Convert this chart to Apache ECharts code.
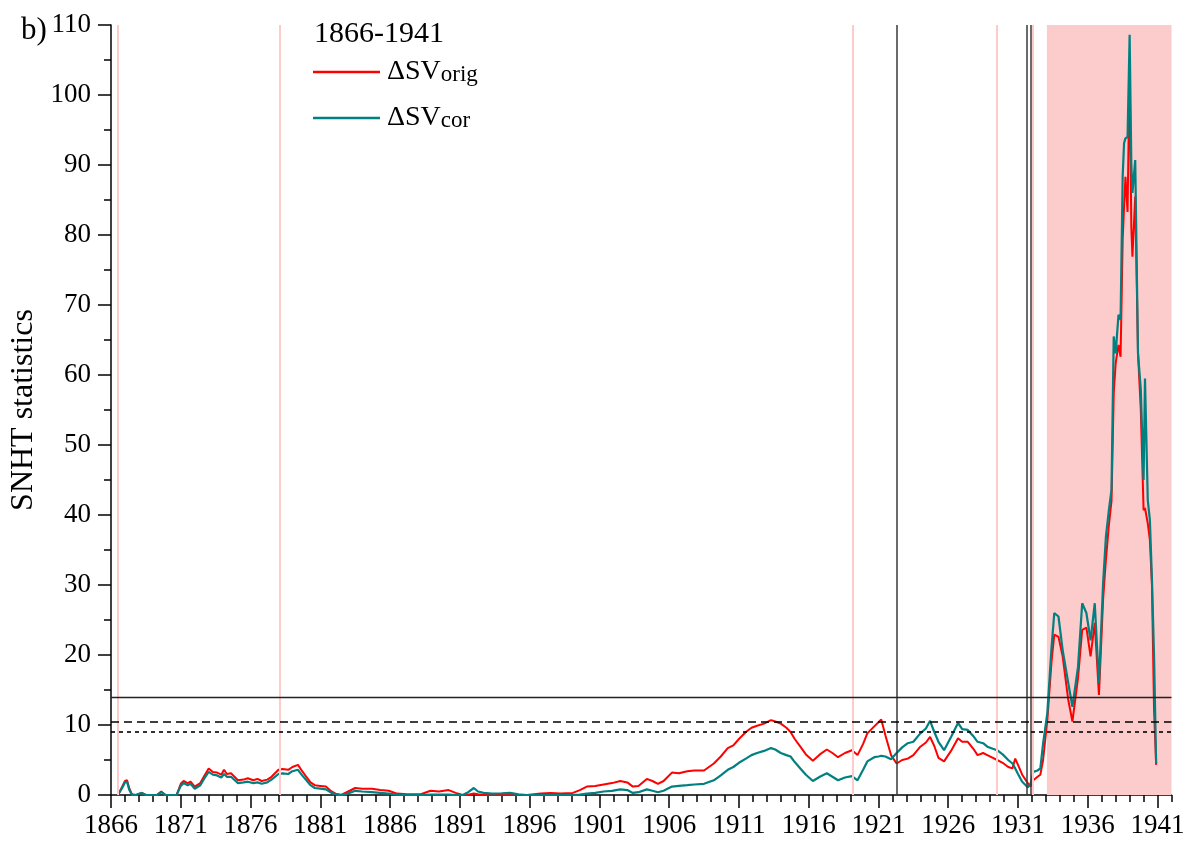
<!DOCTYPE html>
<html>
<head>
<meta charset="utf-8">
<script src="https://cdn.jsdelivr.net/npm/echarts@6/dist/echarts.min.js"></script>
<style>
  html, body { margin: 0; padding: 0; background: #fff; }
  #chart { width: 1187px; height: 841px; }
</style>
</head>
<body>
<div id="chart"></div>
<script>
// ---- Data ----
const years = [
  1866.5, 1866.8, 1867.0, 1867.15, 1867.3, 1867.5, 1867.8, 1868.2, 1868.5, 1869.3,
  1869.6, 1869.9, 1870.7, 1871.0, 1871.2, 1871.5, 1871.7, 1872.0, 1872.4, 1872.7,
  1873.0, 1873.3, 1873.6, 1873.9, 1874.1, 1874.3, 1874.6, 1875.1, 1875.5, 1875.8,
  1876.2, 1876.5, 1876.8, 1877.2, 1877.5, 1878.0, 1878.3, 1878.7, 1879.0, 1879.4,
  1879.7, 1880.0, 1880.3, 1880.6, 1881.0, 1881.4, 1881.8, 1882.1, 1882.5, 1883.0,
  1883.5, 1884.0, 1884.7, 1885.3, 1885.9, 1886.5, 1887.2, 1888.2, 1888.9, 1889.5,
  1890.2, 1890.7, 1891.2, 1891.6, 1892.0, 1892.3, 1892.7, 1893.3, 1894.0, 1894.6,
  1895.2, 1895.8, 1896.8, 1897.5, 1898.2, 1899.1, 1899.6, 1900.1, 1900.7, 1901.3,
  1901.9, 1902.5, 1903.0, 1903.4, 1903.8, 1904.4, 1904.8, 1905.2, 1905.6, 1906.2,
  1906.7, 1907.3, 1907.8, 1908.5, 1909.2, 1909.7, 1910.2, 1910.6, 1911.0, 1911.5,
  1911.9, 1912.3, 1912.8, 1913.3, 1913.6, 1914.0, 1914.4, 1914.7, 1915.0, 1915.4,
  1915.8, 1916.3, 1916.8, 1917.3, 1917.7, 1918.1, 1918.6, 1919.1, 1919.5, 1919.9,
  1920.2, 1920.7, 1921.0, 1921.2, 1921.5, 1921.9, 1922.3, 1922.7, 1923.1, 1923.5,
  1924.0, 1924.4, 1924.7, 1925.0, 1925.3, 1925.7, 1926.2, 1926.7, 1927.0, 1927.4,
  1927.8, 1928.1, 1928.5, 1928.8, 1929.2, 1929.5, 1929.9, 1930.3, 1930.6, 1930.8,
  1931.0, 1931.3, 1931.7, 1931.9, 1932.1, 1932.4, 1932.6, 1932.8, 1933.1, 1933.4,
  1933.6, 1933.9, 1934.2, 1934.6, 1934.9, 1935.3, 1935.6, 1935.9, 1936.2, 1936.5,
  1936.8, 1937.1, 1937.3, 1937.5, 1937.7, 1937.86, 1938.0, 1938.2, 1938.35, 1938.5,
  1938.6, 1938.7, 1938.85, 1939.0, 1939.12, 1939.2, 1939.4, 1939.6, 1939.8, 1940.0,
  1940.1, 1940.3, 1940.45, 1940.6, 1940.75, 1940.9
];
const svOrig = [
  0, 1.2, 2.0, 2.1, 1.0, 0.1, 0, 0.3, 0, 0,
  0.5, 0, 0, 1.6, 2.0, 1.7, 1.9, 1.2, 1.7, 2.8,
  3.8, 3.3, 3.2, 2.9, 3.6, 3.0, 3.1, 2.1, 2.2, 2.4,
  2.1, 2.3, 2.0, 2.2, 2.6, 3.6, 3.7, 3.6, 4.0, 4.3,
  3.4, 2.6, 1.8, 1.4, 1.3, 1.2, 0.5, 0.2, 0, 0.5,
  1.0, 0.9, 0.9, 0.7, 0.6, 0.2, 0.1, 0.1, 0.6, 0.5,
  0.7, 0.3, 0, 0.05, 0.2, 0.1, 0, 0, 0, 0,
  0, 0, 0.2, 0.3, 0.2, 0.3, 0.7, 1.2, 1.3, 1.5,
  1.7, 2.0, 1.8, 1.2, 1.3, 2.3, 2.0, 1.6, 2.0, 3.2,
  3.1, 3.4, 3.5, 3.5, 4.5, 5.5, 6.7, 7.1, 8.0, 9.0,
  9.6, 9.9, 10.2, 10.7, 10.5, 10.2, 9.6, 9.0, 8.0, 6.9,
  5.8, 4.9, 5.8, 6.5, 6.0, 5.4, 6.0, 6.4, 5.7, 7.3,
  8.8, 9.8, 10.4, 10.8, 8.5, 5.7, 4.5, 5.0, 5.2, 5.7,
  6.9, 7.5, 8.3, 7.0, 5.3, 4.8, 6.3, 8.1, 7.6, 7.6,
  6.6, 5.7, 6.0, 5.7, 5.3, 5.0, 4.6, 4.0, 3.8, 5.2,
  4.3, 2.9, 1.7, 1.2, 2.1, 2.6, 2.9, 5.0, 10.7, 19.0,
  22.9, 22.6, 19.8, 13.6, 10.5, 16.7, 23.6, 23.9, 19.8, 24.6,
  14.3, 28.0, 33.6, 38.3, 42.0, 57.4, 61.7, 64.3, 62.6, 79.3,
  84.0, 88.3, 83.3, 104.0, 81.2, 76.9, 85.5, 63.1, 55.0, 40.7,
  41.0, 38.8, 36.4, 30.0, 12.1, 4.3
];
const svCor = [
  0, 1.0, 1.8, 1.9, 0.8, 0, 0, 0.3, 0, 0,
  0.4, 0, 0, 1.3, 1.7, 1.4, 1.6, 0.9, 1.4, 2.4,
  3.3, 2.9, 2.8, 2.5, 3.0, 2.6, 2.6, 1.7, 1.8, 1.9,
  1.7, 1.8, 1.6, 1.8, 2.2, 3.0, 3.1, 3.0, 3.4, 3.6,
  2.8, 2.1, 1.4, 1.0, 0.9, 0.8, 0.3, 0.1, 0, 0.2,
  0.6, 0.5, 0.4, 0.3, 0.2, 0.05, 0, 0, 0.05, 0.05,
  0.05, 0, 0, 0.4, 1.0, 0.5, 0.3, 0.2, 0.25, 0.3,
  0.1, 0, 0, 0, 0, 0, 0.05, 0.2, 0.3, 0.5,
  0.6, 0.8, 0.7, 0.3, 0.4, 0.8, 0.6, 0.4, 0.6, 1.2,
  1.3, 1.4, 1.5, 1.6, 2.1, 2.8, 3.6, 4.0, 4.6, 5.2,
  5.7, 6.0, 6.3, 6.7, 6.5, 6.0, 5.7, 5.5, 4.7, 3.8,
  2.9, 2.0, 2.6, 3.1, 2.6, 2.1, 2.5, 2.7, 2.1, 3.6,
  4.8, 5.4, 5.5, 5.6, 5.5, 5.1, 6.0, 6.8, 7.4, 7.6,
  8.8, 9.5, 10.6, 9.0, 7.6, 6.4, 8.3, 10.3, 9.4, 9.3,
  8.4, 7.6, 7.4, 6.9, 6.6, 6.4, 5.8, 5.0, 4.5, 3.8,
  3.0, 1.9, 1.1, 1.6, 3.3, 3.5, 3.8, 7.4, 11.7, 21.0,
  26.0, 25.5, 20.7, 16.0, 12.6, 18.3, 27.4, 26.0, 22.1, 27.4,
  16.0, 30.3, 36.9, 40.5, 43.6, 65.5, 63.1, 68.6, 67.9, 88.3,
  93.1, 93.8, 94.0, 108.6, 90.2, 86.0, 90.7, 63.1, 57.9, 45.0,
  59.5, 42.1, 39.3, 30.7, 19.8, 4.5
];
const yearTicks = [];          // minor ticks: every year
for (let y = 1866; y <= 1942; y++) yearTicks.push(y);
const yearLabels = [1866, 1871, 1876, 1881, 1886, 1891, 1896, 1901, 1906, 1911, 1916, 1921, 1926, 1931, 1936, 1941];
const thresholds = [13.9, 10.5, 9.0];            // solid, dashed, dotted
const pinkBreaks = [1866.48, 1878.08, 1919.13, 1929.46, 1932.07];
const blackBreaks = [1922.3, 1931.6, 1931.88];
const shadedSpan = [1933.07, 1942];
const periodLabel = '1866-1941';
const panelLabel = 'b)';
const seriesNames = ['ΔSVorig', 'ΔSVcor'];

// ---- Chart ----
const FONT = "'Liberation Serif', 'DejaVu Serif', serif";
const chart = echarts.init(document.getElementById('chart'), null, { renderer: 'canvas' });
const pairs = (vals) => years.map((y, i) => [y, vals[i]]);

const markLineData = [];
pinkBreaks.forEach(x => markLineData.push({ xAxis: x, lineStyle: { color: '#ffcaca', width: 2, type: 'solid' } }));
blackBreaks.forEach(x => markLineData.push({ xAxis: x, lineStyle: { color: '#3a3a3a', width: 1.5, type: 'solid' } }));
markLineData.push({ yAxis: thresholds[0], lineStyle: { color: '#222', width: 1.3, type: 'solid' } });
markLineData.push({ yAxis: thresholds[1], lineStyle: { color: '#000', width: 1.6, type: [8, 5] } });
markLineData.push({ yAxis: thresholds[2], lineStyle: { color: '#000', width: 1.6, type: [4, 4] } });

const option = {
  backgroundColor: '#ffffff',
  animation: false,
  title: [
    { text: periodLabel, left: 314, top: 19, padding: 0,
      textStyle: { fontFamily: FONT, fontSize: 30, fontWeight: 'normal', color: '#000' } },
    { text: panelLabel, left: 21, top: 15, padding: 0,
      textStyle: { fontFamily: FONT, fontSize: 31, fontWeight: 'normal', color: '#000' } }
  ],
  legend: {
    orient: 'vertical', left: 313, top: 57, padding: 0,
    itemWidth: 67, itemHeight: 2.5, itemGap: 16, icon: 'rect',
    data: seriesNames,
    formatter: n => '{a|ΔSV}{b|' + n.slice(3) + '}',
    textStyle: {
      fontFamily: FONT, color: '#000', lineHeight: 30, padding: [0, 0, 0, 2],
      rich: {
        a: { fontFamily: FONT, fontSize: 28, lineHeight: 30, color: '#000' },
        b: { fontFamily: FONT, fontSize: 23, lineHeight: 30, color: '#000', padding: [6, 0, 0, 0] }
      }
    }
  },
  grid: { left: 111, right: 15.5, top: 25, bottom: 46, containLabel: false, outerBoundsMode: 'none' },
  xAxis: [
    {
      type: 'value', min: 1866, max: 1942,
      axisLine: { show: true, onZero: false, lineStyle: { color: '#000', width: 1.5 } },
      axisTick: { show: true, customValues: yearTicks, length: 7, lineStyle: { color: '#000', width: 1.5 } },
      axisLabel: { customValues: yearLabels, formatter: v => String(v), margin: 17,
        fontFamily: FONT, fontSize: 27, color: '#000' },
      splitLine: { show: false }
    },
    {
      type: 'value', min: 1866, max: 1942, position: 'bottom', offset: 0,
      axisLine: { show: false },
      axisTick: { show: true, customValues: yearLabels, length: 13, lineStyle: { color: '#000', width: 1.5 } },
      axisLabel: { show: false },
      splitLine: { show: false }
    }
  ],
  yAxis: {
    type: 'value', min: 0, max: 110, interval: 10,
    name: 'SNHT statistics', nameLocation: 'middle', nameGap: 68,
    nameTextStyle: { fontFamily: FONT, fontSize: 32, color: '#000' },
    axisLine: { show: true, lineStyle: { color: '#000', width: 1.5 } },
    axisTick: { show: true, length: 13, lineStyle: { color: '#000', width: 1.5 } },
    minorTick: { show: true, splitNumber: 2, length: 7, lineStyle: { color: '#000', width: 1.5 } },
    axisLabel: { margin: 20, fontFamily: FONT, fontSize: 27, color: '#000' },
    splitLine: { show: false }
  },
  series: [
    {
      name: seriesNames[0], type: 'line', xAxisIndex: 0, data: pairs(svOrig),
      showSymbol: false, color: '#ff0000',
      lineStyle: { color: '#ff0000', width: 2 },
      markArea: {
        silent: true,
        itemStyle: { color: '#fccbcb' },
        data: [[{ xAxis: shadedSpan[0] }, { xAxis: shadedSpan[1] }]]
      },
      markLine: {
        silent: true, symbol: 'none', label: { show: false },
        data: markLineData
      },
      z: 3
    },
    {
      name: seriesNames[1], type: 'line', xAxisIndex: 0, data: pairs(svCor),
      showSymbol: false, color: '#008080',
      lineStyle: { color: '#008080', width: 2.2 },
      z: 4
    }
  ]
};
chart.setOption(option);
</script>
</body>
</html>
